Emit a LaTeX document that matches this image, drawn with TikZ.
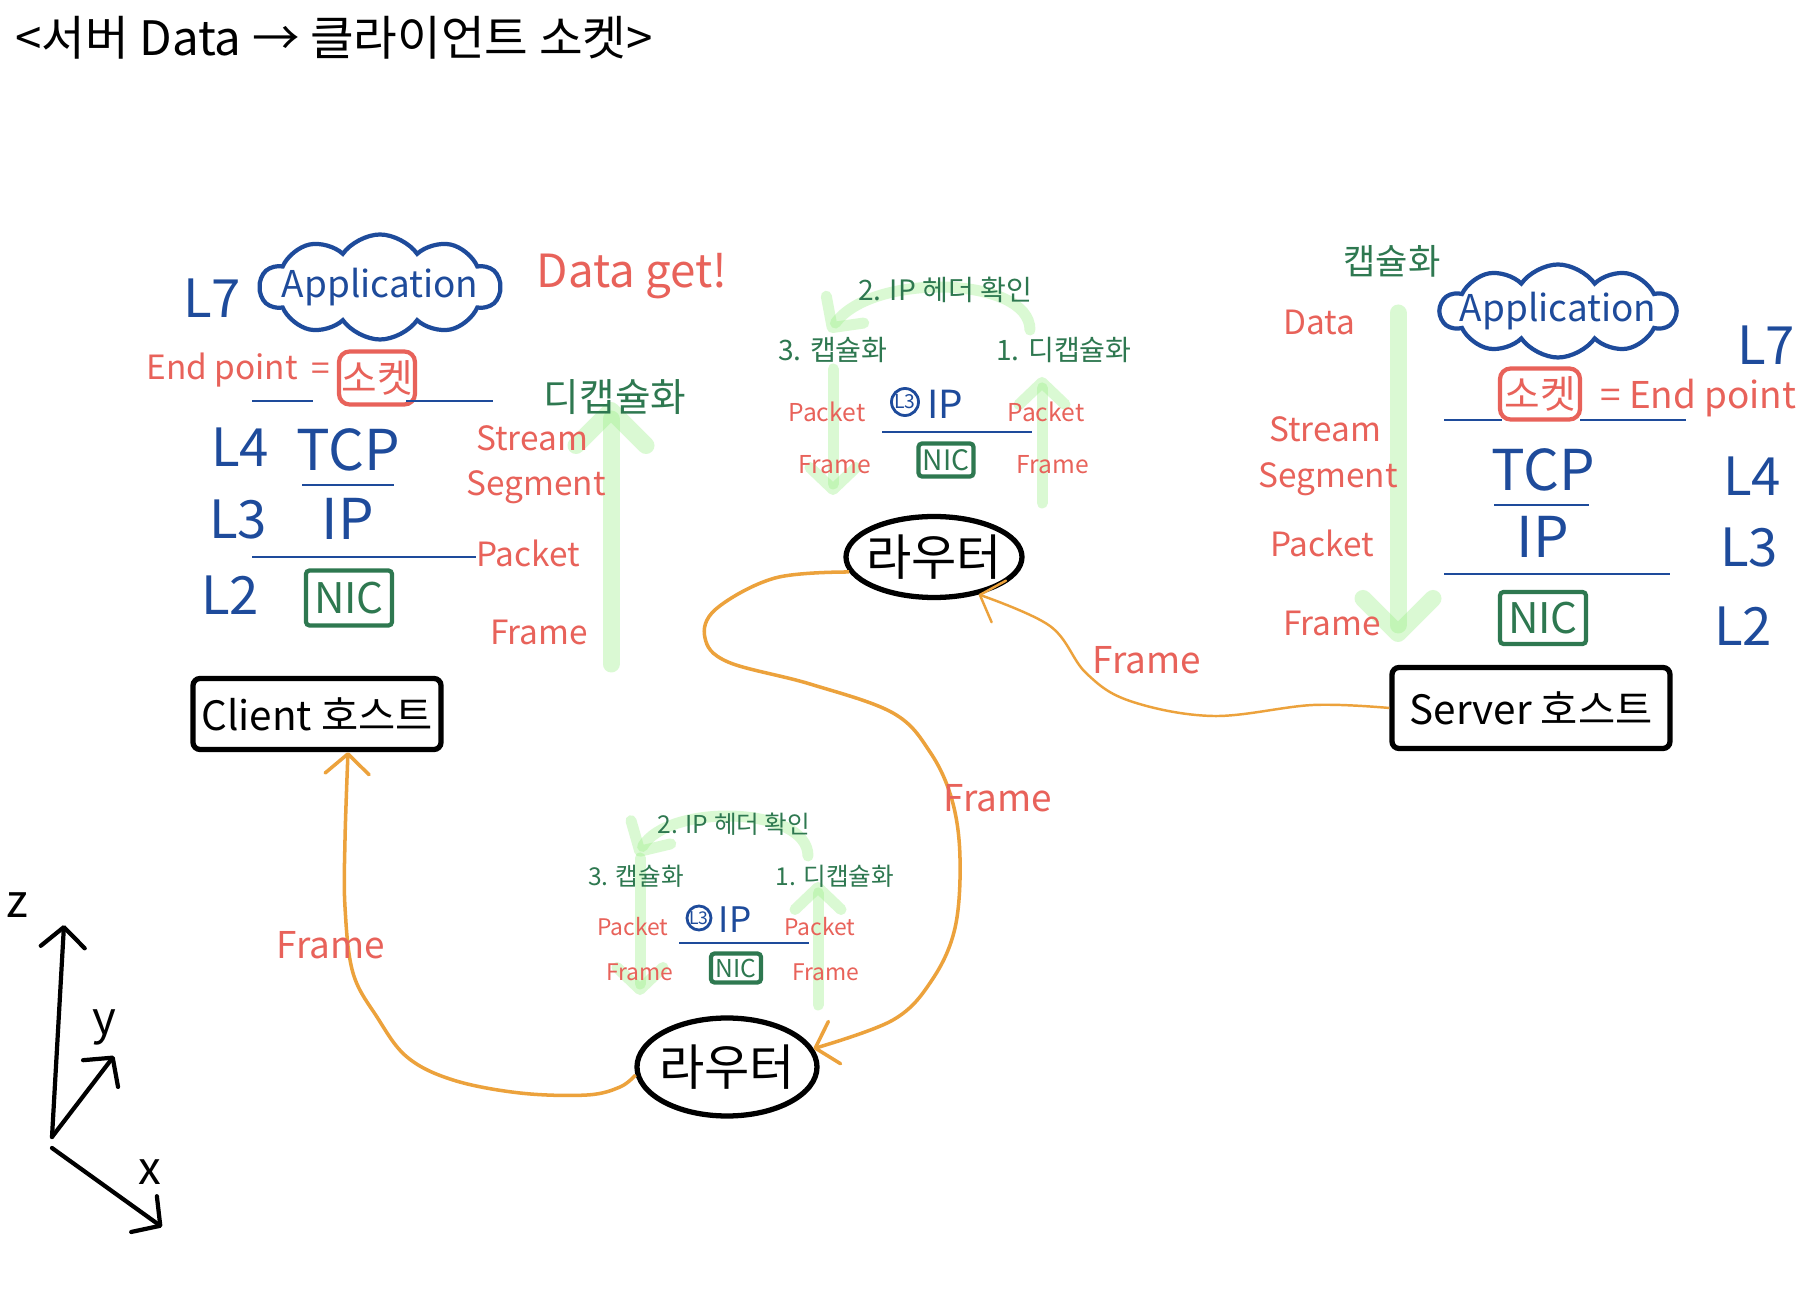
\documentclass[tikz,border=0pt]{standalone}
\usepackage{fontspec}
\setmainfont{Noto Sans CJK KR}
\usetikzlibrary{arrows.meta,shapes.symbols,shapes.geometric}

\definecolor{layerblue}{RGB}{30,75,155}
\definecolor{pdured}{RGB}{232,98,90}
\definecolor{stepgreen}{RGB}{46,120,80}
\definecolor{flowgreen}{RGB}{150,240,130}
\definecolor{wireorange}{RGB}{236,162,60}
\newcommand{\fsz}[1]{\fontsize{#1}{#1}\selectfont}

\begin{document}
\begin{tikzpicture}[x=0.1mm, y=-0.1mm,
    layer/.style={text=layerblue, font=\fsz{15}},
    pdu/.style={text=pdured, font=\fsz{9.5}},
    smallpdu/.style={text=pdured, font=\fsz{7}},
    stepnote/.style={text=stepgreen, font=\fsz{8}},
    nicbox/.style={draw=stepgreen, text=stepgreen, line width=1.2pt, rounded corners=1pt, inner sep=0pt, font=\fsz{12}},
    sockbox/.style={draw=pdured, text=pdured, line width=1.2pt, rounded corners=3pt, inner sep=0pt, font=\fsz{11}},
    hostbox/.style={draw, line width=1.5pt, rounded corners=2pt, inner sep=0pt, font=\fsz{11.5}},
    router/.style={ellipse, draw, line width=1.5pt, inner xsep=-0.8mm, inner ysep=0pt, font=\fsz{14}},
    appcloud/.style={cloud, cloud puffs=10, cloud puff arc=110, cloud ignores aspect, draw=layerblue, line width=1.2pt, inner sep=0pt},
    apptext/.style={text=layerblue, font=\fsz{10.5}},
    l3ring/.style={circle, draw=layerblue, text=layerblue, line width=0.8pt, inner sep=0pt, minimum size=2.7mm, font=\fsz{5.5}},
    sep/.style={layerblue, line width=0.8pt},
    flow/.style={flowgreen, opacity=.35, line width=1.7mm, line cap=round, -{Straight Barb[round, length=3.5mm, width=7mm]}},
    smallflow/.style={flow, line width=1.1mm, -{Straight Barb[round, length=2.2mm, width=4.6mm]}},
    link/.style={wireorange, line width=1pt, -{Straight Barb[round, length=2mm, width=4.4mm]}},
    axis/.style={line width=1.2pt, line cap=round, -{Straight Barb[round, length=2mm, width=4.4mm]}}]

    \path[use as bounding box, fill=white] (0,0) rectangle (1819,1310);

    \node[font=\fsz{13.5}] (title) at (334,38) {<서버 Data → 클라이언트 소켓>};

    % green flow arrows (behind the text)
    \draw[flow] (611,664) -- (611,402);
    \draw[flow] (1398,313) -- (1398,642);
    \draw[smallflow] (1030,330) .. controls (1030,276) and (872,272) .. (829,332);
    \draw[smallflow] (833,369) -- (833,495);
    \draw[smallflow] (1042,503) -- (1042,377);
    \draw[smallflow] (808,856) .. controls (808,806) and (668,803) .. (637,856);
    \draw[smallflow] (640,858) -- (640,995);
    \draw[smallflow] (818,1005) -- (818,882);

    % client side
    \node[layer] (cL7) at (212,298) {L7};
    \node[appcloud, minimum width=24mm, minimum height=10.5mm] (cCloud) at (380,287) {};
    \node[apptext] (cApp) at (cCloud) {Application};
    \node[pdu, font=\fsz{13}] (cGet) at (632,276) {Data get!};
    \node[pdu] (cEnd) at (222,370) {End point};
    \node[pdu] (cEq) at (321,372) {=};
    \node[sockbox, minimum width=7.6mm, minimum height=5.3mm] (cSock) at (377,378) {소켓};
    \draw[sep] (252,401) -- (313,401) (406,401) -- (493,401);
    \node[layer] (cL4) at (240,447) {L4};
    \node[layer, font=\fsz{16}] (cTcp) at (348,450) {TCP};
    \draw[sep] (302,485) -- (394,485);
    \node[layer] (cL3) at (238,520) {L3};
    \node[layer, font=\fsz{16}] (cIp) at (348,519) {IP};
    \draw[sep] (252,557) -- (476,557);
    \node[layer] (cL2) at (230,595) {L2};
    \node[nicbox, minimum width=8.6mm, minimum height=5.5mm] (cNic) at (349,598) {NIC};
    \node[hostbox, minimum width=24.8mm, minimum height=7.1mm] (cli) at (317,714) {Client 호스트};
    \node[pdu] (cStream) at (532,438) {Stream};
    \node[pdu] (cSeg) at (536,487) {Segment};
    \node[pdu] (cPkt) at (528,553) {Packet};
    \node[pdu] (cFrm) at (539,632) {Frame};
    \node[stepnote, font=\fsz{11}] (cDecap) at (615,397) {디캡슐화};

    % server side
    \node[stepnote, font=\fsz{10}] (sEncap) at (1392,261) {캡슐화};
    \node[pdu] (sData) at (1319,322) {Data};
    \node[appcloud, minimum width=23.5mm, minimum height=9.3mm] (sCloud) at (1558,311) {};
    \node[apptext] (sApp) at (sCloud) {Application};
    \node[layer] (sL7) at (1766,345) {L7};
    \node[sockbox, minimum width=8mm, minimum height=5.1mm] (sSock) at (1540,394) {소켓};
    \node[pdu, font=\fsz{10.5}, anchor=west] (sEnd) at (1588,398) {= End point};
    \draw[sep] (1444,420) -- (1502,420) (1580,420) -- (1686,420);
    \node[layer, font=\fsz{16}] (sTcp) at (1543,470) {TCP};
    \node[layer] (sL4) at (1752,476) {L4};
    \draw[sep] (1494,505) -- (1589,505);
    \node[layer, font=\fsz{16}] (sIp) at (1543,537) {IP};
    \node[layer] (sL3) at (1749,548) {L3};
    \draw[sep] (1444,574) -- (1670,574);
    \node[nicbox, minimum width=8.6mm, minimum height=5.2mm] (sNic) at (1543,618) {NIC};
    \node[layer] (sL2) at (1743,626) {L2};
    \node[hostbox, minimum width=27.8mm, minimum height=8.1mm] (srv) at (1531,708) {Server 호스트};
    \node[pdu] (sStream) at (1325,429) {Stream};
    \node[pdu] (sSeg) at (1328,479) {Segment};
    \node[pdu] (sPkt) at (1322,543) {Packet};
    \node[pdu] (sFrm) at (1332,623) {Frame};

    % upper router
    \node[router, minimum width=17.6mm, minimum height=8.1mm] (rtA) at (934,557) {라우터};
    \node[stepnote] (rtAchk) at (945,290) {2. IP 헤더 확인};
    \node[stepnote] (rtAenc) at (833,350) {3. 캡슐화};
    \node[stepnote] (rtAdec) at (1064,350) {1. 디캡슐화};
    \node[smallpdu] (rtApktL) at (827,412) {Packet};
    \node[l3ring] (rtAl3) at (905,402) {L3};
    \node[layer, font=\fsz{11}] (rtAip) at (945,404) {IP};
    \node[smallpdu] (rtApktR) at (1046,412) {Packet};
    \draw[sep] (882,432) -- (1032,432);
    \node[smallpdu] (rtAfrmL) at (835,465) {Frame};
    \node[nicbox, font=\fsz{8}, minimum width=5.5mm, minimum height=3.3mm] (rtAnic) at (946,460) {NIC};
    \node[smallpdu] (rtAfrmR) at (1053,465) {Frame};

    % lower router
    \node[router, minimum width=18mm, minimum height=9.8mm] (rtB) at (727,1067) {라우터};
    \node[stepnote, font=\fsz{7}] (rtBchk) at (734,824) {2. IP 헤더 확인};
    \node[stepnote, font=\fsz{7}] (rtBenc) at (636,876) {3. 캡슐화};
    \node[stepnote, font=\fsz{7}] (rtBdec) at (835,876) {1. 디캡슐화};
    \node[smallpdu, font=\fsz{6.5}] (rtBpktL) at (633,927) {Packet};
    \node[l3ring, minimum size=2.4mm, font=\fsz{5}] (rtBl3) at (699,918) {L3};
    \node[layer, font=\fsz{10}] (rtBip) at (735,920) {IP};
    \node[smallpdu, font=\fsz{6.5}] (rtBpktR) at (820,927) {Packet};
    \draw[sep] (679,943) -- (809,943);
    \node[smallpdu, font=\fsz{6.5}] (rtBfrmL) at (640,972) {Frame};
    \node[nicbox, font=\fsz{7}, minimum width=5mm, minimum height=2.9mm] (rtBnic) at (736,968) {NIC};
    \node[smallpdu, font=\fsz{6.5}] (rtBfrmR) at (826,972) {Frame};

    % frame links
    \coordinate (cliIn) at ([xshift=3.1mm]cli.south);
    \draw[link, line width=0.7pt] plot[smooth, tension=.6] coordinates {(srv.west) (1313,705) (1213,716) (1130,701) (1086,673) (1050,626) (rtA.-40)};
    \draw[link] plot[smooth, tension=.6] coordinates {(rtA.190) (775,578) (716,609) (705,638) (728,662) (810,684) (893,713) (930,752) (952,800) (960,858) (955,928) (932,980) (893,1020) (rtB.12)};
    \draw[link] plot[smooth, tension=.6] coordinates {(rtB.185) (620,1087) (587,1095) (520,1093) (453,1080) (407,1057) (377,1017) (353,973) (345,907) (345,840) (cliIn)};
    \node[pdu, font=\fsz{10.5}] (fSrv) at (1147,660) {Frame};
    \node[pdu, font=\fsz{10.5}] (fMid) at (998,798) {Frame};
    \node[pdu, font=\fsz{10.5}] (fCli) at (331,945) {Frame};

    % axes
    \coordinate (orgA) at (52,1137);
    \coordinate (orgB) at (52,1148);
    \coordinate (zEnd) at (64,925);
    \coordinate (yEnd) at (114,1056);
    \coordinate (xEnd) at (162,1227);
    \draw[axis] (orgA) -- (zEnd);
    \draw[axis] (orgA) -- (yEnd);
    \draw[axis] (orgB) -- (xEnd);
    \node[font=\fsz{13}] (zLab) at (17,905) {z};
    \node[font=\fsz{13}] (yLab) at (104,1027) {y};
    \node[font=\fsz{13}] (xLab) at (150,1172) {x};
\end{tikzpicture}
\end{document}
